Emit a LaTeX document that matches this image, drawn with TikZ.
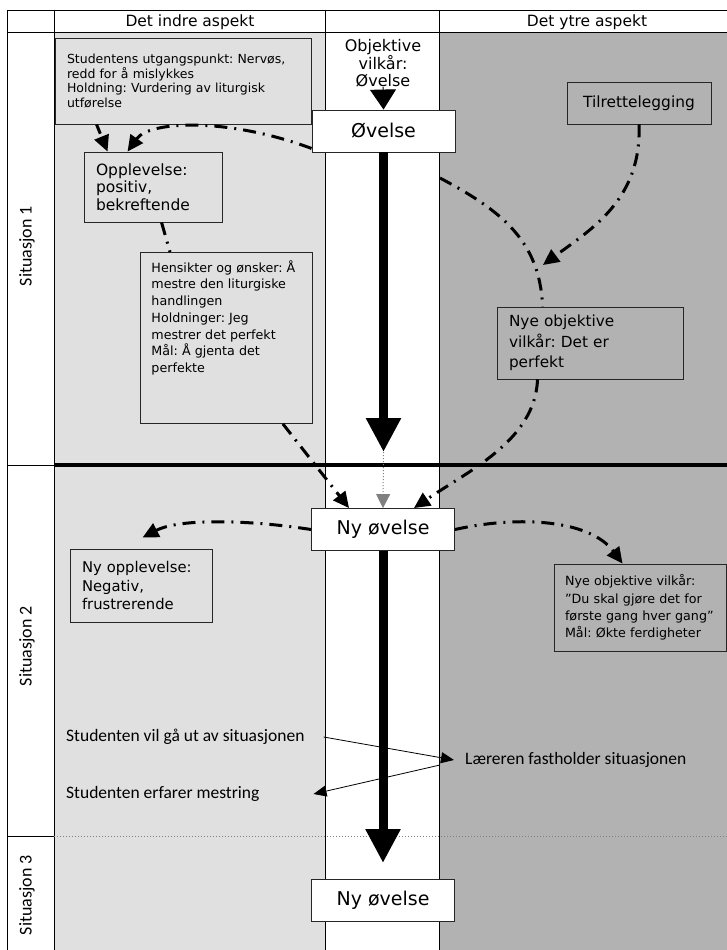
\documentclass[tikz,border=0pt]{standalone}
\usepackage{fontspec}
\setmainfont{DejaVu Sans}
\newfontfamily\calfont{Carlito}
\usetikzlibrary{arrows.meta}
\definecolor{innergray}{HTML}{E0E0E0}
\definecolor{outergray}{HTML}{B2B2B2}
\frenchspacing

\begin{document}
\begin{tikzpicture}[x=1pt, y=-1pt]
\tikzstyle{boxr}=[rectangle, draw=black!85, line width=0.9pt, inner sep=0pt]
\tikzstyle{boxw}=[boxr, fill=white, minimum width=143pt, minimum height=42pt, font=\fontsize{19}{22}\selectfont]
\tikzstyle{boxt}=[boxr, align=left, inner xsep=12pt, inner ysep=4pt]
\tikzstyle{hdr}=[font=\fontsize{15.5}{18}\selectfont]
\tikzstyle{sit}=[rotate=90, font=\calfont\fontsize{18}{20}\selectfont]
\tikzstyle{lbl}=[anchor=west, inner sep=0pt, font=\calfont\fontsize{17.5}{20}\selectfont]
\tikzstyle{dashdotline}=[line width=3pt, dash pattern=on 13pt off 7pt on 2pt off 7pt]
\tikzstyle{dashdot}=[dashdotline, -{Triangle[length=16pt,width=15pt]}]
\tikzstyle{dashedarrow}=[line width=3pt, dash pattern=on 10pt off 6pt, -{Triangle[length=16pt,width=15pt]}]
\tikzstyle{bigarrow}=[line width=9pt, -{Triangle[length=34pt,width=33pt]}]
\tikzstyle{dotarrow}=[gray, line width=1pt, dotted, -{Triangle[length=14pt,width=14pt]}]
\tikzstyle{thinarrow}=[line width=0.8pt, -{Triangle[length=13pt,width=11pt]}]

\useasboundingbox (0,0) rectangle (727,950);

% table
\fill[innergray] (54,33) rectangle (325,950);
\fill[white] (325,33) rectangle (439,950);
\fill[outergray] (439,33) rectangle (727,950);
\draw[line width=1pt] (7,950) -- (7,10.5) -- (727,10.5);
\draw[line width=1pt] (7,33) -- (727,33);
\foreach \x in {54,325,439} \draw[line width=1pt] (\x,10.5) -- (\x,950);
\draw[line width=1pt] (7,465) -- (54,465);
\draw[line width=4.5pt] (54,465) -- (727,465);
\draw[line width=1pt] (7,836) -- (54,836);
\draw[gray, dotted, line width=1pt] (54,836) -- (727,836);

\node[hdr] (H1) at (190,22) {Det indre aspekt};
\node[hdr] (H2) at (587,22) {Det ytre aspekt};
\node[sit] (R1) at (27,246) {Situasjon 1};
\node[sit] (R2) at (27,646) {Situasjon 2};
\node[sit] (R3) at (27,895) {Situasjon 3};

% situasjon 1
\node[boxt, fill=innergray, text width=232pt, minimum height=86pt, font=\fontsize{12.5}{14.7}\selectfont] (S1a) at (183,81) {Studentens utgangspunkt: Nervøs,\\ redd for å mislykkes\\ Holdning: Vurdering av liturgisk\\ utførelse};
\node[align=center, inner sep=0pt, font=\fontsize{16}{17}\selectfont] (S1o) at (383,63) {Objektive\\ vilkår:\\ Øvelse};
\node[boxw] (S1b) at (383.5,131) {Øvelse};
\node[boxr, fill=outergray, minimum width=144pt, minimum height=42pt, font=\fontsize{15.4}{18}\selectfont] (S1c) at (639,103) {Tilrettelegging};
\node[boxt, fill=innergray, text width=114pt, minimum height=70pt, font=\fontsize{15.5}{17.5}\selectfont] (S1d) at (153,187) {Opplevelse:\\ positiv,\\ bekreftende};
\node[boxr, fill=innergray, inner xsep=11pt, inner ysep=8pt, anchor=north west, font=\fontsize{12.7}{16.7}\selectfont] (S1e) at (140,252) {\parbox[c][155pt][t]{150pt}{\raggedright Hensikter og ønsker: Å\\ mestre den liturgiske\\ handlingen\\ Holdninger: Jeg\\ mestrer det perfekt\\ Mål: Å gjenta det\\ perfekte}};
\node[boxt, fill=outergray, text width=162pt, minimum height=72pt, font=\fontsize{15.3}{20.7}\selectfont] (S1f) at (590,343) {Nye objektive\\ vilkår: Det er\\ perfekt};

% situasjon 2
\node[boxw] (S2a) at (383,529.5) {Ny øvelse};
\node[boxt, fill=innergray, text width=118pt, minimum height=73pt, font=\fontsize{14.8}{18.3}\selectfont] (S2b) at (141,585.5) {Ny opplevelse:\\ Negativ,\\ frustrerende};
\node[boxt, fill=outergray, inner xsep=11pt, text width=150pt, minimum height=87pt, font=\fontsize{12.7}{17.2}\selectfont] (S2c) at (640,607.5) {Nye objektive vilkår:\\ ”Du skal gjøre det for\\ første gang hver gang”\\ Mål: Økte ferdigheter};
\node[lbl] (L1) at (66,737) {Studenten vil gå ut av situasjonen};
\node[lbl] (L2) at (66,794) {Studenten erfarer mestring};
\node[lbl] (L3) at (465,760) {Læreren fastholder situasjonen};

% situasjon 3
\node[boxw] (S3a) at (383,900) {Ny øvelse};

\coordinate (t1) at (383.5,452);
\coordinate (t2) at (383,863);
\coordinate (c1) at (440,178);
\coordinate (c2) at (543,265);

\draw[line width=1pt, -{Triangle[length=20pt,width=26pt]}] (S1o.south) -- (S1b.north);
\draw[bigarrow] (S1b.south) -- (t1);
\draw[bigarrow] (S2a.south) -- (t2);
\draw[dotarrow] (t1) -- (S2a.north);
\draw[dashedarrow] ([xshift=42pt]S1a.south west) -- ([xshift=24pt]S1d.north west);
\draw[dashdot] ([yshift=4pt]S1b.south west) .. controls (230,118) and (150,120) .. ([xshift=44pt]S1d.north west);
\draw[dashdotline] ([xshift=78pt]S1d.south west) -- ([xshift=30pt]S1e.north west);
\draw[dashdot] ([xshift=-30pt]S1e.south east) -- ([xshift=38pt]S2a.north west);
\draw[dashdotline] (c1) .. controls (500,210) and (540,240) .. ([xshift=46pt]S1f.north west);
\draw[dashdot] (S1c.south) .. controls (642,200) and (590,230) .. (c2);
\draw[dashdot] ([xshift=41pt]S1f.south west) .. controls (535,440) and (470,470) .. ([xshift=-41pt]S2a.north east);
\draw[dashdot] (S2a.west) .. controls (250,520) and (180,518) .. ([xshift=73pt,yshift=11pt]S2b.north west);
\draw[dashdot] (S2a.east) .. controls (520,515) and (590,520) .. ([xshift=69pt]S2c.north west);
\draw[thinarrow] ([xshift=19pt]L1.east) -- ([xshift=-11pt]L3.west);
\draw[thinarrow] ([xshift=-25pt,yshift=-5pt]L3.west) -- ([xshift=54pt]L2.east);
\end{tikzpicture}
\end{document}
